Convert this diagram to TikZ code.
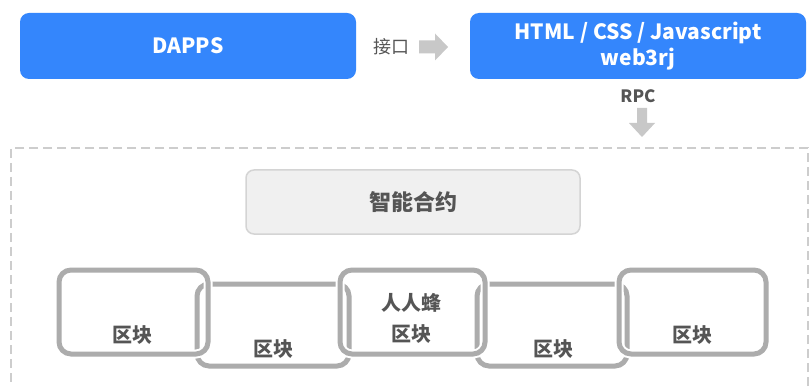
\documentclass[tikz,border=0pt]{standalone}
\usepackage{fontspec}
\setmainfont{Noto Sans CJK SC}
\definecolor{bblue}{RGB}{52,134,252}
\definecolor{agray}{RGB}{200,200,200}
\definecolor{lgray}{RGB}{172,172,172}
\definecolor{cfill}{RGB}{240,240,240}
\definecolor{cline}{RGB}{212,212,212}
\definecolor{tgray}{RGB}{85,85,85}
\definecolor{dgray}{RGB}{205,205,205}
\begin{document}
\begin{tikzpicture}[x=1pt,y=-1pt,
  bluebox/.style={rectangle, rounded corners=9pt, fill=bblue, text=white,
    font=\bfseries\fontsize{21}{26}\selectfont, align=center,
    minimum width=336pt, minimum height=66pt, inner sep=0pt},
  contract/.style={rectangle, rounded corners=8pt, fill=cfill, draw=cline, line width=1.5pt,
    text=tgray, font=\bfseries\fontsize{22}{26}\selectfont,
    minimum width=334pt, minimum height=64pt, inner sep=0pt},
  blockbox/.style={rectangle, rounded corners=12pt, draw=lgray, line width=5pt,
    preaction={draw=white, line width=9pt}, minimum height=84pt, inner sep=0pt},
  lowbox/.style={blockbox, minimum height=82pt},
  blocklabel/.style={text=tgray, font=\bfseries\fontsize{20}{24}\selectfont, inner sep=0pt},
  smalllabel/.style={text=tgray, inner sep=0pt},
  fatarrow/.style={fill=agray, draw=none}
]
\useasboundingbox (0,0) rectangle (810,387);
\clip (0,0) rectangle (810,387);
\fill[white] (0,0) rectangle (810,387);

% top boxes
\node[bluebox] (dapps) at (188,46) {DAPPS};
\node[bluebox] (web) at (638,46) {HTML / CSS / Javascript\\web3rj};

% interface label and arrow
\node[smalllabel, font=\fontsize{18}{22}\selectfont] (iface) at (391,47) {接口};
\coordinate (ra) at (419,47);
\fill[fatarrow] (ra) ++(0,-6.5) -- ++(16,0) -- ++(0,-7) -- ++(13,13.5) -- ++(-13,13.5) -- ++(0,-7) -- ++(-16,0) -- cycle;

% RPC label and arrow
\node[smalllabel, font=\bfseries\fontsize{17}{20}\selectfont] (rpc) at (638,96) {RPC};
\coordinate (da) at (642,108);
\fill[fatarrow] (da) ++(-5,0) -- ++(10,0) -- ++(0,15) -- ++(8,0) -- ++(-13,14) -- ++(-13,-14) -- ++(8,0) -- cycle;

% dashed container
\draw[dgray, line width=2pt, dash pattern=on 9pt off 5pt] (808,400) -- (808,148) -- (11,148) -- (11,400);

% smart contract
\node[contract] (sc) at (413,202) {智能合约};

% blocks: lower ones first, then upper ones
\node[lowbox, minimum width=152pt] (b2) at (273,325) {};
\node[lowbox, minimum width=150pt] (b4) at (552,325) {};
\node[blockbox, minimum width=149pt] (b1) at (133.5,312) {};
\node[blockbox, minimum width=145pt] (b3) at (412.5,312) {};
\node[blockbox, minimum width=147pt] (b5) at (692.5,312) {};

\node[blocklabel] (l1) at (132,335) {区块};
\node[blocklabel] (l2) at (273,349) {区块};
\node[blocklabel] (l3a) at (411,303) {人人蜂};
\node[blocklabel] (l3) at (411,334) {区块};
\node[blocklabel] (l4) at (553,349) {区块};
\node[blocklabel] (l5) at (692,335) {区块};
\end{tikzpicture}
\end{document}
